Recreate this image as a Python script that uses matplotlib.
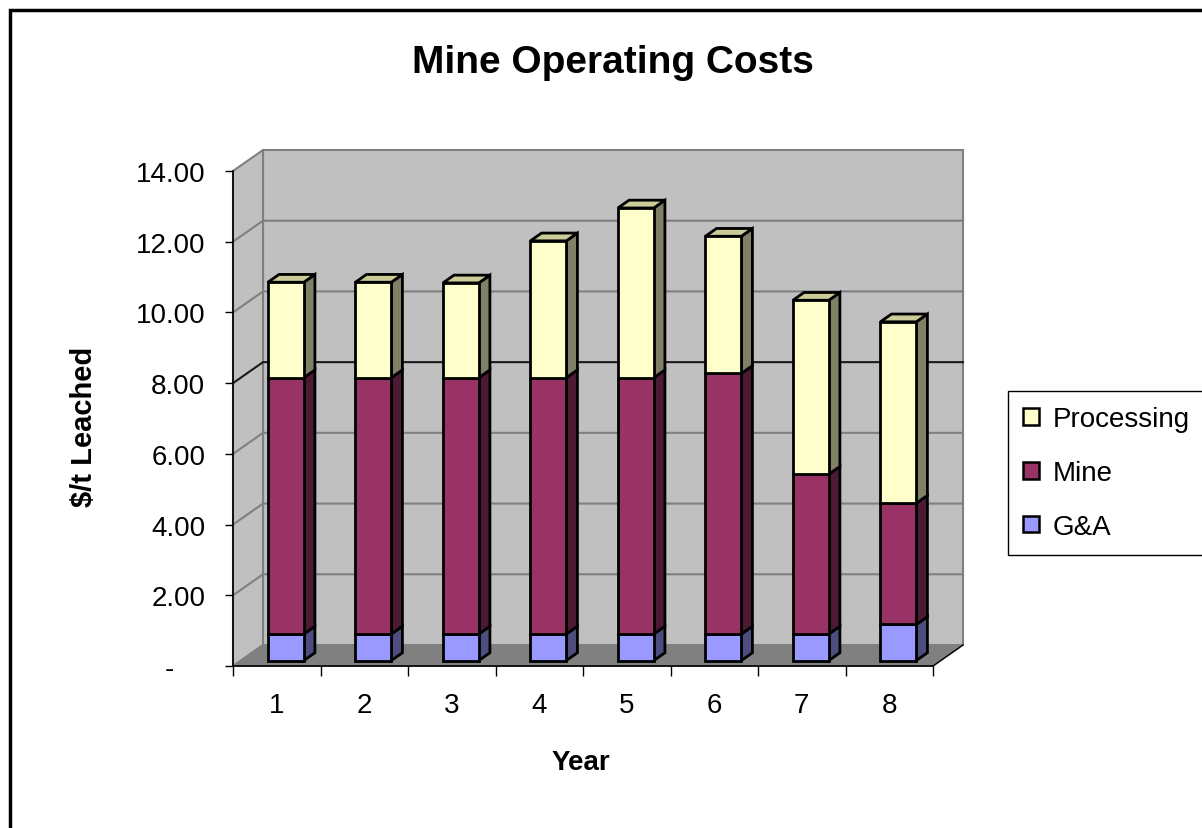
import matplotlib.pyplot as plt
from matplotlib.patches import Polygon, Rectangle, Patch
import numpy as np

plt.rcParams['font.family'] = ['Liberation Sans', 'DejaVu Sans']

# ---------- Data ----------
years = ['1', '2', '3', '4', '5', '6', '7', '8']
ga = [0.75, 0.75, 0.75, 0.75, 0.75, 0.75, 0.75, 1.02]
mine = [7.25, 7.25, 7.25, 7.25, 7.25, 7.37, 4.52, 3.43]
processing = [2.70, 2.70, 2.68, 3.87, 4.80, 3.88, 4.92, 5.13]

series_names = ['G&A', 'Mine', 'Processing']
series_values = [ga, mine, processing]
front_colors = ['#9999FF', '#993366', '#FFFFCC']
side_colors = ['#4D4D80', '#4D1A33', '#808066']
top_colors = ['#B3B3FF', '#B35C85', '#CCCC99']

y_ticks = [0, 2, 4, 6, 8, 10, 12, 14]
y_tick_labels = ['-    ', '2.00', '4.00', '6.00', '8.00', '10.00', '12.00', '14.00']

# ---------- Figure ----------
W_PX, H_PX = 1202, 829
fig = plt.figure(figsize=(W_PX / 100, H_PX / 100), dpi=100)
fig.patch.set_facecolor('white')

ax = fig.add_axes([233 / W_PX, 1 - 667 / H_PX, 700 / W_PX, 495 / H_PX])
ax.set_xlim(0.5, 8.5)
ax.set_ylim(0, 14)
ax.set_facecolor('none')

# depth of the fake 3D box (data units)
DX, DY = 0.343, 0.594
x0, x1 = 0.5, 8.5
ymax = 14

# walls and floor
ax.add_patch(Rectangle((x0 + DX, DY), x1 - x0, ymax, fc='#C0C0C0', ec='#808080',
                       lw=1.5, zorder=0, clip_on=False))
ax.add_patch(Polygon([(x0, 0), (x0 + DX, DY), (x0 + DX, ymax + DY), (x0, ymax)],
                     closed=True, fc='#C0C0C0', ec='#808080', lw=1.5, zorder=0, clip_on=False))
ax.add_patch(Polygon([(x0, 0), (x1, 0), (x1 + DX, DY), (x0 + DX, DY)],
                     closed=True, fc='#808080', ec='#808080', lw=1, zorder=0.5, clip_on=False))
ax.plot([x1, x1 + DX], [0, DY], color='black', lw=1.0, clip_on=False, zorder=1)

# gridlines on side + back wall
for v in y_ticks[1:-1]:
    col = '#1a1a1a' if v == 8 else '#808080'
    ax.plot([x0, x0 + DX, x1 + DX], [v, v + DY, v + DY], color=col, lw=1.5,
            clip_on=False, zorder=1)

# ---------- Bars ----------
W = 0.41
F0 = 0.26   # front face depth position
BD = 0.37   # bar depth
bdx, bdy = BD * DX, BD * DY
for i in range(len(years)):
    xl = i + 1 - W / 2 + F0 * DX + 0.015
    xr = xl + W
    base = F0 * DY
    for s, vals in enumerate(series_values):
        h = vals[i]
        b = base
        t = base + h
        ax.add_patch(Polygon([(xr, b), (xr + bdx, b + bdy), (xr + bdx, t + bdy), (xr, t)],
                             closed=True, fc=side_colors[s], ec='black', lw=2.0,
                             zorder=3, clip_on=False))
        ax.add_patch(Rectangle((xl, b), W, h, fc=front_colors[s], ec='black', lw=2.0,
                               zorder=4, clip_on=False))
        base = t
    s = len(series_values) - 1
    ax.add_patch(Polygon([(xl, base), (xr, base), (xr + bdx, base + bdy), (xl + bdx, base + bdy)],
                         closed=True, fc=top_colors[s], ec='black', lw=2.0,
                         zorder=3, clip_on=False))

# ---------- Axes ----------
for sp in ['top', 'right']:
    ax.spines[sp].set_visible(False)
for sp in ['left', 'bottom']:
    ax.spines[sp].set_color('black')
    ax.spines[sp].set_linewidth(1.2)
    ax.spines[sp].set_zorder(2)

ax.set_yticks(y_ticks)
ax.set_yticklabels(y_tick_labels)
ax.tick_params(axis='y', direction='out', length=6, width=1, pad=14, labelsize=20)

ax.set_xticks(range(1, len(years) + 1))
ax.set_xticklabels(years)
ax.set_xticks(np.arange(0.5, len(years) + 1, 1), minor=True)
ax.tick_params(axis='x', which='major', length=0, pad=19, labelsize=20)
ax.tick_params(axis='x', which='minor', direction='out', length=7, width=1)

ax.set_ylabel('$/t Leached', fontsize=21, fontweight='bold')
ax.yaxis.set_label_coords(-0.193, 0.485)
ax.set_xlabel('Year', fontsize=20, fontweight='bold')
ax.xaxis.set_label_coords(0.497, -0.168)

fig.text(613 / W_PX, 1 - 63 / H_PX, 'Mine Operating Costs', ha='center', va='center',
         fontsize=28, fontweight='bold')

# ---------- Legend ----------
handles = [Patch(facecolor=front_colors[s], edgecolor='black', lw=1.8, label=series_names[s])
           for s in [2, 1, 0]]
leg = fig.legend(handles=handles, loc='upper left',
                 bbox_to_anchor=(1008 / W_PX, 1 - 392 / H_PX), fontsize=20,
                 frameon=True, fancybox=False, framealpha=1, edgecolor='black',
                 handlelength=0.55, handleheight=0.55, handletextpad=0.5,
                 labelspacing=1.0, borderpad=0.55, borderaxespad=0)
leg.get_frame().set_linewidth(1.0)

# outer chart border
fig.patches.append(Rectangle((10 / W_PX, -0.05), 1.1, 1 - 11 / H_PX + 0.05,
                             transform=fig.transFigure, fill=False, ec='black', lw=2.5))

fig.savefig('out.png', dpi=100)
